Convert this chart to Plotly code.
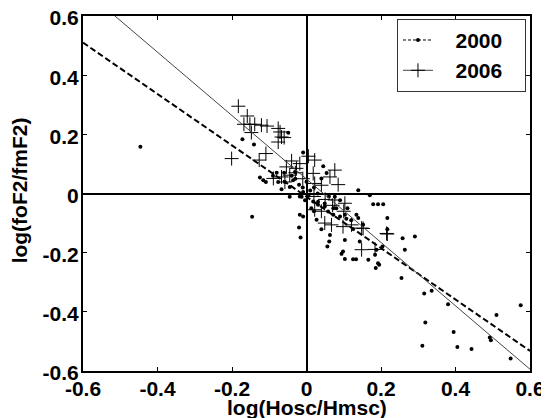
import plotly.graph_objects as go

# 2000 data (dots)
x2000 = [-0.446, -0.146, -0.172, -0.141, -0.049, -0.125, -0.116, -0.109, -0.076, -0.067,
         -0.045, -0.036, -0.009, 0.045, 0.054, 0.040, 0.139, 0.170, 0.179, 0.192,
         0.206, -0.045, -0.058, -0.013, -0.004, -0.009, 0.005, 0.076, 0.090, 0.031,
         0.049, -0.018, 0.018, 0.031, 0.013, 0.049, 0.058, 0.072, 0.072, 0.090,
         0.103, 0.107, -0.018, -0.009, -0.020, -0.016, 0.027, 0.040, 0.063, 0.061,
         0.056, 0.103, 0.098, 0.094, 0.103, 0.125, 0.133, 0.134, 0.139, 0.143,
         0.125, 0.152, 0.217, 0.217, 0.258, 0.291, 0.264, 0.204, 0.188, 0.184,
         0.166, 0.192, 0.195, 0.186, 0.255, 0.316, 0.336, 0.380, 0.319, 0.311,
         0.395, 0.405, 0.443, 0.510, 0.492, 0.495, 0.575, 0.548,
         -0.060, -0.040, -0.030, -0.020, -0.010, 0.000, 0.010, 0.020, 0.030, -0.080,
         -0.090, -0.031, 0.060, 0.020, 0.080, 0.110, 0.120]
y2000 = [0.158, -0.079, 0.183, 0.166, 0.205, 0.054, 0.045, 0.039, 0.039, 0.014,
         0.022, 0.045, 0.139, 0.092, 0.069, 0.051, 0.011, -0.006, -0.036, -0.036,
         -0.036, -0.011, 0.039, -0.011, -0.023, 0.005, -0.006, -0.011, -0.023, -0.028,
         -0.034, -0.010, -0.027, -0.038, -0.050, -0.044, -0.061, -0.050, -0.072, -0.078,
         -0.072, -0.085, -0.072, -0.078, -0.115, -0.149, -0.089, -0.121, -0.140, -0.162,
         -0.179, -0.157, -0.196, -0.204, -0.221, -0.222, -0.222, -0.072, -0.083, -0.162,
         -0.120, -0.106, -0.083, -0.121, -0.151, -0.145, -0.190, -0.179, -0.190, -0.207,
         -0.224, -0.236, -0.241, -0.252, -0.286, -0.338, -0.329, -0.374, -0.436, -0.515,
         -0.468, -0.519, -0.526, -0.411, -0.487, -0.496, -0.378, -0.558,
         0.070, 0.060, 0.050, 0.030, 0.020, 0.040, 0.010, 0.020, 0.000, 0.070,
         0.060, 0.073, -0.010, -0.060, -0.050, -0.050, -0.090]

# 2006 data (plus markers)
x2006 = [-0.183, -0.159, -0.168, -0.152, -0.139, -0.121, -0.106, -0.148, -0.071, -0.060,
         -0.076, -0.109, -0.201, -0.127, -0.054, -0.045, -0.067, -0.089, -0.058, -0.076,
         -0.067, 0.005, 0.022, -0.018, -0.027, 0.076, 0.063, 0.085, 0.018, 0.022,
         0.040, 0.022, 0.076, 0.103, 0.098, 0.121, 0.148, 0.148, 0.049, 0.067,
         0.217, 0.184, 0.152, 0.215,
         -0.030, -0.010, 0.000, 0.020, 0.050, 0.070, 0.040, 0.100, -0.040]
y2006 = [0.295, 0.262, 0.234, 0.234, 0.234, 0.231, 0.228, 0.206, 0.208, 0.189,
         0.174, 0.135, 0.118, 0.113, 0.090, 0.062, 0.056, 0.051, 0.039, 0.220,
         0.191, 0.126, 0.113, 0.101, 0.085, 0.079, 0.056, 0.030, 0.068, 0.034,
         0.028, -0.055, -0.022, -0.033, -0.112, -0.106, -0.117, -0.190, -0.100, -0.106,
         -0.137, -0.189, -0.118, -0.135,
         0.070, 0.050, 0.000, -0.010, -0.020, -0.040, -0.060, -0.060, 0.110]

# fitted lines
fit_x = [-0.6, 0.6]
fit_2000 = [0.51, -0.532]
fit_2006 = [0.692, -0.594]

tick_vals = [-0.6, -0.4, -0.2, 0, 0.2, 0.4, 0.6]
tick_text = ["-0.6", "-0.4", "-0.2", "0", "0.2", "0.4", "0.6"]

FONT = "Liberation Sans, Arial, sans-serif"
NB = "\u00a0"

fig = go.Figure()
fig.add_trace(go.Scatter(x=x2000, y=y2000, mode="markers", showlegend=False,
                         marker=dict(symbol="circle", size=4, color="black")))
fig.add_trace(go.Scatter(x=x2006, y=y2006, mode="markers", showlegend=False,
                         marker=dict(symbol="cross-thin", size=10, color="black",
                                     line=dict(width=1, color="black"))))
fig.add_trace(go.Scatter(x=fit_x, y=fit_2000, mode="lines", showlegend=False,
                         line=dict(color="black", width=2, dash="6px,3px")))
fig.add_trace(go.Scatter(x=fit_x, y=fit_2006, mode="lines", showlegend=False,
                         line=dict(color="#444444", width=1)))
# legend entries
fig.add_trace(go.Scatter(x=[None], y=[None], mode="lines+markers",
                         name=NB * 3 + "2000" + NB * 3,
                         line=dict(color="black", width=1, dash="3px,2px"),
                         marker=dict(symbol="circle", size=4, color="black")))
fig.add_trace(go.Scatter(x=[None], y=[None], mode="lines+markers",
                         name=NB * 3 + "2006" + NB * 3,
                         line=dict(color="#444444", width=1),
                         marker=dict(symbol="cross-thin", size=10, color="black",
                                     line=dict(width=1, color="black"))))

axis_common = dict(
    showgrid=False, showline=True, linecolor="black", linewidth=2, mirror="ticks",
    ticks="inside", ticklen=4, tickwidth=1, tickcolor="black",
    zeroline=True, zerolinecolor="black", zerolinewidth=2,
    tickvals=tick_vals, ticktext=tick_text, automargin=False,
    ticklabeloverflow="allow", ticklabelstandoff=-2,
    tickfont=dict(family=FONT, size=21, color="black", weight="bold"),
)

# page body adds an 8px offset; figure sized to fit the 549x418 window
fig.update_layout(
    width=541, height=410,
    margin=dict(l=75, r=19, t=8, b=47),
    paper_bgcolor="white", plot_bgcolor="white",
    xaxis=dict(range=[-0.6, 0.6], **axis_common),
    yaxis=dict(range=[-0.6, 0.6], ticklabelshift=2,
               **axis_common),
    legend=dict(x=0.991, y=0.992, xanchor="right", yanchor="top",
                bordercolor="#333333", borderwidth=1, bgcolor="white",
                font=dict(family=FONT, size=21, color="black", weight="bold"),
                itemwidth=30, tracegroupgap=0),
    annotations=[
        dict(text="log(Hosc/Hmsc)", xref="paper", yref="paper", x=0.5, y=-0.103,
             xanchor="center", yanchor="middle", showarrow=False,
             font=dict(family=FONT, size=21, color="black", weight="bold")),
        dict(text="log(foF2/fmF2)", xref="paper", yref="paper", x=-0.14, y=0.51,
             xanchor="center", yanchor="middle", showarrow=False, textangle=-90,
             font=dict(family=FONT, size=21, color="black", weight="bold")),
    ],
)

fig.write_html("out.html")
